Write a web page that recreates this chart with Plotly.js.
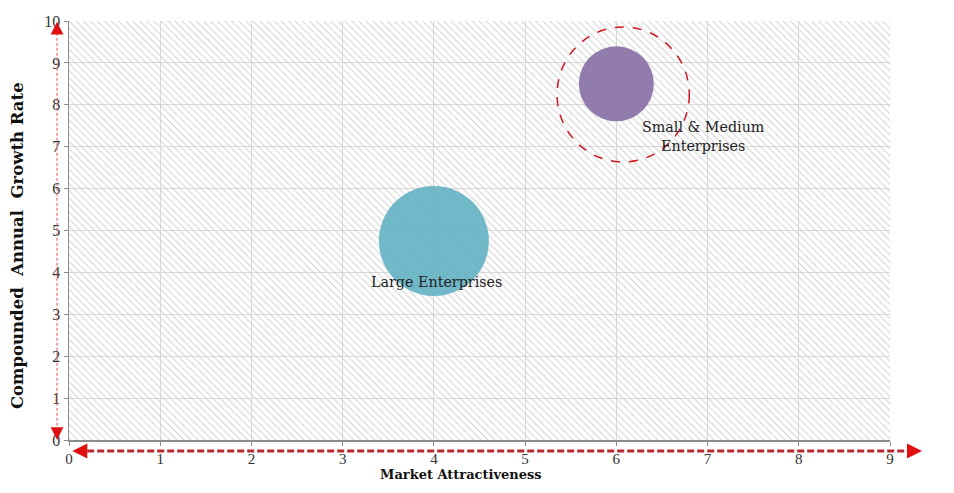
<!DOCTYPE html>
<html>
<head>
<meta charset="utf-8">
<script src="https://cdn.plot.ly/plotly-3.0.1.min.js"></script>
<style>html,body{margin:0;padding:0;background:#fff;}#chart{width:954px;height:493px;}</style>
</head>
<body>
<div id="chart"></div>
<script>
// ---- data ----
const segments = ["Large Enterprises", "Small & Medium<br>Enterprises"];
const marketAttractiveness = [4, 6];
const growthRate = [4.75, 8.5];
const bubbleValues = [110, 75];
const xTicks = [0, 1, 2, 3, 4, 5, 6, 7, 8, 9];
const yTicks = [0, 1, 2, 3, 4, 5, 6, 7, 8, 9, 10];

const xRange = [xTicks[0], xTicks[xTicks.length - 1]];
const yRange = [yTicks[0], yTicks[yTicks.length - 1]];
const colors = ["rgba(104,180,198,0.94)", "rgba(138,116,168,0.94)"];
const serif = "Liberation Serif, DejaVu Serif, serif";
const serifWide = "DejaVu Serif, serif";

const hatch = {
  x: [xRange[0], xRange[1], xRange[1], xRange[0], xRange[0]],
  y: [yRange[0], yRange[0], yRange[1], yRange[1], yRange[0]],
  type: "scatter", mode: "none", fill: "toself",
  fillcolor: "rgba(0,0,0,0)",
  fillpattern: {shape: "\\", fgcolor: "#d0d0d0", bgcolor: "rgba(0,0,0,0)", size: 5, solidity: 0.2, fillmode: "replace"},
  hoverinfo: "skip", showlegend: false
};

const bubbles = {
  x: marketAttractiveness, y: growthRate,
  type: "scatter", mode: "markers",
  marker: {size: bubbleValues, sizemode: "diameter", sizeref: 1, color: colors, opacity: 1, line: {width: 0}},
  showlegend: false, cliponaxis: false
};

const labelShift = [[3, -41], [87, -53]];
const annotations = segments.map((s, i) => ({
  x: marketAttractiveness[i], y: growthRate[i], xref: "x", yref: "y",
  xanchor: "center", yanchor: "middle",
  text: s, showarrow: false, xshift: labelShift[i][0], yshift: labelShift[i][1],
  font: {family: serifWide, size: 14.3, color: "#222"}
}));

function head(x, y, ax, ay, w, s, c) {
  return {x: x, y: y, xref: "paper", yref: "paper", text: "", showarrow: true,
    ax: ax, ay: ay, arrowhead: 2, arrowsize: s, arrowwidth: w, arrowcolor: c, standoff: 0, startstandoff: 0};
}
annotations.push(head(1.039, -0.026, -12, 0, 3, 1, "#e01010"));
annotations.push(head(0.004, -0.026, 12, 0, 3, 1, "#e01010"));
annotations.push(head(-0.0146, 0.998, 0, 12, 1.5, 1.7, "#e01010"));
annotations.push(head(-0.0146, 0.0, 0, -12, 1.5, 1.7, "#e01010"));
annotations.push({x: 0.4775, y: -0.0825, xref: "paper", yref: "paper", showarrow: false,
  xanchor: "center", yanchor: "middle",
  text: "<b>Market Attractiveness</b>", font: {family: serifWide, size: 13, color: "#111"}});
annotations.push({x: -0.0633, y: 0.463, xref: "paper", yref: "paper", showarrow: false, textangle: -90,
  xanchor: "center", yanchor: "middle",
  text: "<b>Compounded  Annual  Growth Rate</b>", font: {family: serifWide, size: 16.5, color: "#111"}});

const shapes = [
  {type: "circle", xref: "x", yref: "y", x0: 5.35, x1: 6.80, y0: 6.635, y1: 9.857,
    line: {color: "rgb(205,25,35)", width: 1.5, dash: "dash"}, layer: "above"},
  {type: "line", xref: "paper", yref: "paper", x0: 0.01, x1: 1.03, y0: -0.026, y1: -0.026,
    line: {color: "#b82a30", width: 3, dash: "7px,3px"}},
  {type: "line", xref: "paper", yref: "paper", x0: -0.0146, x1: -0.0146, y0: 0.01, y1: 0.985,
    line: {color: "#e05050", width: 1, dash: "3px,2px"}}
];

const axisCommon = {
  showgrid: true, gridcolor: "#d9d9d9", gridwidth: 1, zeroline: false,
  showline: true, linecolor: "#8c8c8c", linewidth: 1.5,
  ticks: "outside", ticklen: 5, tickcolor: "#8c8c8c",
  tickfont: {family: serif, size: 15, color: "#333"}, fixedrange: true
};

const layout = {
  width: 954, height: 493,
  margin: {l: 69, r: 64, t: 21, b: 53},
  paper_bgcolor: "#fff", plot_bgcolor: "#fff",
  xaxis: Object.assign({}, axisCommon, {range: xRange, tickvals: xTicks, ticktext: xTicks.map(String), ticklen: 4}),
  yaxis: Object.assign({}, axisCommon, {range: yRange, tickvals: yTicks, ticktext: yTicks.map(String), ticklen: 4,
    tickfont: {family: serif, size: 16, color: "#333"}}),
  annotations: annotations, shapes: shapes, showlegend: false
};

Plotly.newPlot("chart", [hatch, bubbles], layout, {displayModeBar: false, staticPlot: true});
</script>
</body>
</html>
